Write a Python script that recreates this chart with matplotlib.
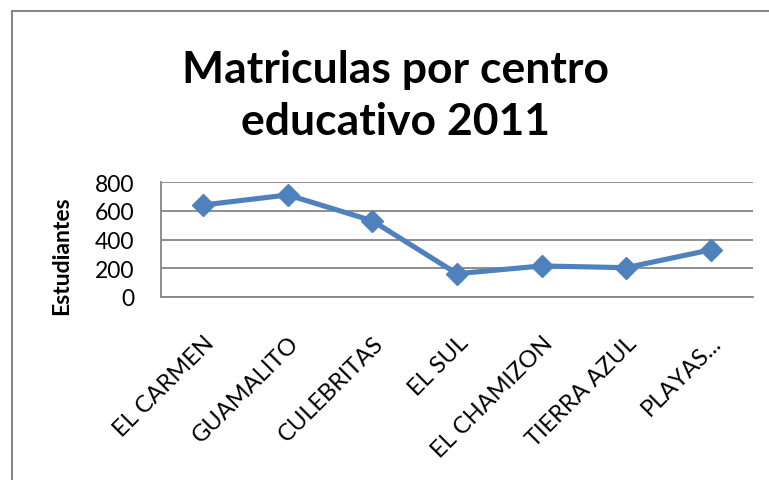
import matplotlib
matplotlib.use("Agg")
import matplotlib.pyplot as plt
from matplotlib.patches import Rectangle

# Datos del grafico
centros = ["EL CARMEN", "GUAMALITO", "CULEBRITAS", "EL SUL",
           "EL CHAMIZON", "TIERRA AZUL", "PLAYAS..."]
estudiantes = [640, 710, 530, 162, 216, 204, 328]
y_ticks = [0, 200, 400, 600, 800]

plt.rcParams['font.family'] = ['Lato', 'DejaVu Sans']

fig = plt.figure(figsize=(7.69, 4.81), dpi=100)

# marco del grafico
fig.patches.append(Rectangle((12 / 769, -0.1), 1.2, 1 - 12 / 481 + 0.1,
                             transform=fig.transFigure, fill=False,
                             edgecolor='#878787', linewidth=1.5))

ax = fig.add_axes([161 / 769, 1 - 298 / 481, 592 / 769, 115 / 481])
x = list(range(len(centros)))
ax.plot(x, estudiantes, color='#4F81BD', linewidth=3.7, marker='D',
        markersize=11, zorder=3, clip_on=False)

ax.set_xlim(-0.5, len(centros) - 0.5)
ax.set_ylim(0, 800)
ax.set_yticks(y_ticks)
ax.set_yticklabels([str(v) for v in y_ticks], fontsize=16.5)
ax.set_xticks(x)
ax.set_xticklabels(centros, rotation=45, ha='right', rotation_mode='anchor',
                   fontsize=17)
ax.tick_params(axis='both', length=0)
ax.tick_params(axis='y', pad=19)
ax.tick_params(axis='x', pad=25)
ax.grid(axis='y', color='#868686', linewidth=1.3)
ax.set_axisbelow(True)
for s in ['top', 'right']:
    ax.spines[s].set_visible(False)
for s in ['left', 'bottom']:
    ax.spines[s].set_color('#868686')
    ax.spines[s].set_linewidth(1.3)

ax.set_ylabel("Estudiantes", fontsize=16.5, fontweight='bold')
ax.yaxis.set_label_coords(-0.15, 0.37)

fig.text(0.514, 1 - 96 / 481, "Matriculas por centro\neducativo 2011",
         ha='center', va='center', fontsize=32, fontweight='bold',
         linespacing=1.35)

fig.savefig("out.png", dpi=100)
